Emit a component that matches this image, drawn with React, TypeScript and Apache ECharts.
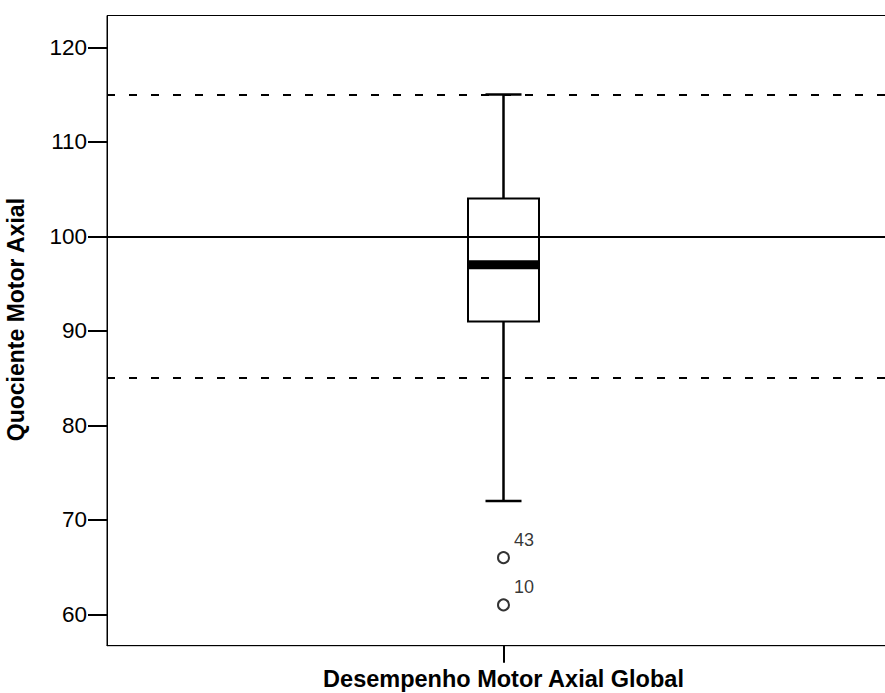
import React, { useEffect, useRef } from "react";
import * as echarts from "echarts";

const categories = ["Desempenho Motor Axial Global"];
// [min whisker, Q1, median, Q3, max whisker]
const boxStats = [[72, 91, 97, 104, 115]];
const outlierValues = [66, 61];
const outlierLabels = ["43", "10"];
const referenceLines = [
  { value: 115, dashed: true },
  { value: 100, dashed: false },
  { value: 85, dashed: true },
];
const yTicks = [60, 70, 80, 90, 100, 110, 120];

export default function App() {
  const ref = useRef<HTMLDivElement>(null);
  useEffect(() => {
    if (!ref.current) return;
    const chart = echarts.init(ref.current, undefined, { renderer: "svg" });
    const font = "Arial, 'Liberation Sans', sans-serif";
    chart.setOption({
      animation: false,
      backgroundColor: "#fff",
      grid: {
        left: 107,
        top: 15.5,
        width: 793,
        bottom: 47.3,
        outerBoundsMode: "none",
        containLabel: false,
        show: true,
        borderColor: "#000",
        borderWidth: 1,
        backgroundColor: "transparent",
      },
      xAxis: {
        type: "category",
        data: categories,
        name: categories[0],
        nameLocation: "middle",
        nameGap: 21,
        nameTextStyle: {
          fontFamily: font,
          fontWeight: "bold",
          fontSize: 23.5,
          lineHeight: 24,
          color: "#000",
        },
        axisLine: { show: true, lineStyle: { color: "#000", width: 1 } },
        axisTick: { show: true, alignWithLabel: true, length: 17, lineStyle: { color: "#000", width: 2 } },
        axisLabel: { show: false },
        splitLine: { show: false },
      },
      yAxis: {
        type: "value",
        min: 56.68,
        max: 123.37,
        name: "Quociente Motor Axial",
        nameLocation: "middle",
        nameRotate: 90,
        nameGap: 80,
        nameTextStyle: {
          fontFamily: font,
          fontWeight: "bold",
          fontSize: 23,
          color: "#000",
          padding: [0, 0, 0, 22],
        },
        axisLine: { show: true, lineStyle: { color: "#000", width: 1 } },
        axisTick: {
          show: true,
          length: 19,
          customValues: yTicks,
          lineStyle: { color: "#000", width: 2 },
        },
        axisLabel: {
          fontFamily: font,
          fontSize: 22.5,
          color: "#000",
          margin: 20,
          customValues: yTicks,
          formatter: (v: number) => String(Math.round(v)),
        },
        splitLine: { show: false },
      },
      series: [
        {
          type: "custom",
          z: 3,
          data: boxStats.map((s, i) => [i, ...s]),
          renderItem: (params: any, api: any) => {
            const x = api.value(0);
            const lo = api.coord([x, api.value(1)]);
            const q1 = api.coord([x, api.value(2)]);
            const med = api.coord([x, api.value(3)]);
            const q3 = api.coord([x, api.value(4)]);
            const hi = api.coord([x, api.value(5)]);
            const cx = lo[0];
            const hw = 35.5;
            const cw = 18;
            const line = (x1: number, y1: number, x2: number, y2: number, w: number) => ({
              type: "line",
              shape: { x1, y1, x2, y2 },
              style: { stroke: "#000", lineWidth: w },
            });
            return {
              type: "group",
              children: [
                line(cx, hi[1], cx, q3[1], 2.5),
                line(cx, q1[1], cx, lo[1], 2.5),
                line(cx - cw, hi[1], cx + cw, hi[1], 2.5),
                line(cx - cw, lo[1], cx + cw, lo[1], 2.5),
                {
                  type: "rect",
                  shape: { x: cx - hw, y: q3[1], width: 2 * hw, height: q1[1] - q3[1] },
                  style: { fill: "none", stroke: "#000", lineWidth: 2 },
                },
                line(cx - hw, med[1], cx + hw, med[1], 9),
              ],
            };
          },
          markLine: {
            silent: true,
            symbol: "none",
            label: { show: false },
            data: referenceLines.map((r) => ({
              yAxis: r.value,
              lineStyle: { color: "#000", width: 2, type: r.dashed ? [8, 14] : "solid" },
            })),
          },
        },
        {
          type: "scatter",
          z: 4,
          symbol: "circle",
          symbolSize: 11,
          itemStyle: { color: "#fff", borderColor: "#000", borderWidth: 2 },
          data: outlierValues.map((v, i) => ({
            value: [categories[0], v],
            label: {
              show: true,
              formatter: outlierLabels[i],
              position: "right",
              distance: 4,
              offset: [0, -17.5],
              fontFamily: font,
              fontSize: 18,
              color: "#000",
            },
          })),
        },
      ],
    });
    return () => chart.dispose();
  }, []);
  return (
    <div
      ref={ref}
      style={{ position: "absolute", left: 0, top: 0, width: 885, height: 693, background: "#fff" }}
    />
  );
}
